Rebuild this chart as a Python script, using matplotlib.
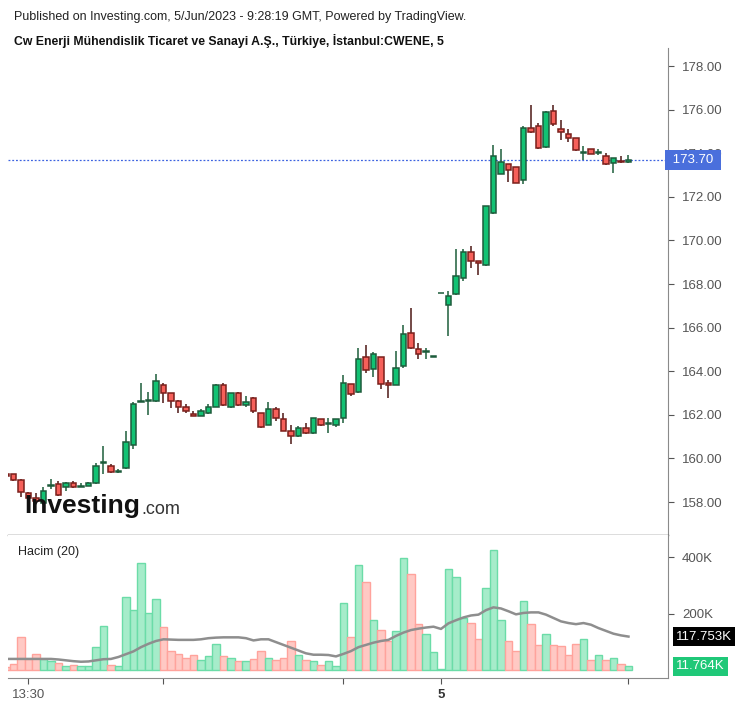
import numpy as np
import matplotlib
matplotlib.use("Agg")
import matplotlib.pyplot as plt

plt.rcParams['font.family'] = ['Liberation Sans', 'DejaVu Sans']

# 5-minute bars, 2 Jun 13:15 .. 5 Jun 12:05 (index 0..83)
opens = [159.30, 159.27, 159.02, 158.40, 158.20, 157.95, 158.72, 158.85, 158.68, 158.86,
         158.69, 158.74, 158.86, 159.78, 159.65, 159.37, 159.55, 160.61, 162.58, 162.63,
         162.63, 163.37, 163.00, 162.65, 162.37, 162.06, 161.94, 162.07, 162.36, 163.37,
         162.35, 163.00, 162.46, 162.77, 162.07, 161.55, 162.25, 161.79, 161.26, 161.03,
         161.38, 161.15, 161.79, 161.56, 161.55, 161.84, 163.40, 163.03, 164.64, 164.12,
         164.64, 163.46, 163.37, 164.24, 165.74, 165.03, 164.87, 164.64, 167.57, 167.04,
         167.54, 168.26, 169.45, 169.06, 168.87, 171.24, 173.06, 173.49, 173.37, 172.77,
         175.14, 175.26, 174.27, 175.95, 175.10, 174.87, 174.68, 174.02, 174.18, 174.02,
         173.89, 173.57, 173.66, 173.58]
highs = [159.32, 159.30, 159.05, 158.45, 158.40, 158.70, 159.05, 158.95, 158.90, 158.95,
         158.86, 158.93, 159.78, 160.58, 159.74, 159.53, 161.26, 162.57, 163.44, 163.03,
         163.86, 163.44, 163.00, 162.70, 162.48, 162.17, 162.27, 162.48, 163.40, 163.44,
         163.02, 163.06, 162.86, 162.80, 162.10, 162.60, 162.34, 162.07, 161.55, 161.49,
         161.65, 161.86, 161.82, 161.84, 161.83, 163.81, 163.42, 165.05, 165.19, 164.90,
         164.66, 163.60, 164.94, 166.12, 166.90, 165.28, 165.05, 164.64, 167.57, 167.68,
         169.60, 169.60, 169.76, 169.08, 171.60, 174.38, 174.19, 173.52, 173.39, 175.26,
         176.21, 175.37, 175.92, 176.21, 175.51, 175.11, 174.70, 174.34, 174.20, 174.19,
         174.00, 173.80, 173.89, 173.90]
lows = [159.18, 158.98, 158.22, 158.10, 158.00, 157.90, 158.62, 158.30, 158.50, 158.66,
        158.67, 158.72, 158.84, 159.30, 159.33, 159.35, 159.50, 160.42, 162.57, 162.00,
        162.60, 162.53, 162.30, 162.10, 162.10, 161.93, 161.93, 162.05, 162.34, 162.40,
        162.33, 162.43, 162.37, 162.10, 161.40, 161.52, 161.73, 161.25, 160.66, 161.00,
        161.12, 161.13, 161.50, 161.18, 161.46, 161.61, 162.88, 163.00, 163.90, 163.72,
        163.20, 162.79, 163.35, 164.13, 165.00, 164.56, 164.55, 164.64, 167.57, 165.61,
        167.50, 168.15, 168.72, 168.41, 168.85, 171.20, 173.04, 172.69, 172.64, 172.59,
        174.94, 174.19, 174.25, 175.26, 174.61, 174.50, 174.10, 173.69, 173.96, 173.92,
        173.47, 173.10, 173.57, 173.56]
closes = [159.20, 159.01, 158.44, 158.20, 158.05, 158.50, 158.77, 158.33, 158.86, 158.69,
          158.75, 158.88, 159.66, 159.84, 159.37, 159.42, 160.74, 162.48, 162.60, 162.67,
          163.55, 163.00, 162.65, 162.35, 162.18, 161.95, 162.17, 162.36, 163.37, 162.45,
          163.00, 162.45, 162.57, 162.17, 161.43, 162.25, 161.84, 161.27, 161.03, 161.39,
          161.15, 161.84, 161.55, 161.65, 161.80, 163.44, 162.97, 164.55, 164.06, 164.79,
          163.43, 163.38, 164.13, 165.69, 165.05, 164.78, 164.93, 164.64, 167.57, 167.45,
          168.37, 169.45, 169.06, 168.96, 171.58, 173.87, 173.58, 173.23, 172.66, 175.16,
          174.96, 174.25, 175.90, 175.35, 174.96, 174.68, 174.15, 174.06, 173.98, 174.06,
          173.49, 173.77, 173.59, 173.70]
# volume in thousands
volume = [11, 19, 115, 37, 55, 37, 30, 24, 12, 15,
          12, 12, 79, 155, 15, 12, 258, 212, 381, 203,
          252, 151, 65, 55, 43, 51, 33, 47, 91, 48,
          42, 29, 29, 39, 68, 42, 34, 43, 101, 51,
          33, 29, 16, 29, 12, 239, 118, 372, 311, 176,
          141, 101, 136, 398, 342, 162, 127, 64, 2, 358,
          331, 185, 167, 109, 292, 426, 176, 101, 68, 244,
          162, 86, 126, 86, 83, 51, 90, 109, 33, 51,
          33, 43, 20, 11.764]
vol_ma = [38, 38, 38, 38, 38, 38, 38, 36, 33, 30,
          28, 29, 33, 37, 38, 45, 55, 65, 80, 92,
          102, 108, 107, 106, 106, 106, 108, 112, 114, 115,
          115, 115, 112, 104, 108, 108, 98, 88, 78, 68,
          58, 53, 53, 52, 47, 56, 66, 80, 88, 96,
          102, 106, 120, 132, 141, 146, 150, 153, 145, 165,
          176, 186, 193, 196, 212, 222, 218, 208, 197, 202,
          204, 204, 196, 184, 172, 166, 162, 166, 160, 148,
          138, 128, 122, 117.753]
price_ticks = [158, 160, 162, 164, 166, 168, 170, 172, 174, 176, 178]
last_price = 173.70

W, H = 746, 707
fig = plt.figure(figsize=(W / 100, H / 100), dpi=100)


def box(l, t, r, b):
    return [l / W, 1 - b / H, (r - l) / W, (b - t) / H]


ax = fig.add_axes(box(8, 48, 668, 535))
axv = fig.add_axes(box(8, 535, 668, 678), sharex=ax)

o = np.array(opens)
c = np.array(closes)
hi = np.array(highs)
lo = np.array(lows)
x = np.arange(len(o))
up = c >= o

UP_FILL, UP_EDGE = '#12c273', '#1d5b3b'
DN_FILL, DN_EDGE = '#f6605a', '#7a1f1b'

wick_col = np.where(up, '#2f6b4a', '#5b2a28')
ax.vlines(x, lo, hi, colors=wick_col, lw=1.2, zorder=2)
body_bot = np.minimum(o, c)
body_h = np.maximum(np.abs(c - o), 0.04)
ax.bar(x, body_h, bottom=body_bot, width=0.68,
       color=np.where(up, UP_FILL, DN_FILL),
       edgecolor=np.where(up, UP_EDGE, DN_EDGE), linewidth=1.1, zorder=3)

ax.axhline(last_price, color='#3d63e0', lw=0.9, ls=(0, (1.5, 1.5)), zorder=1)

ax.set_ylim(156.49, 178.83)
ax.set_xlim(0.27, 88.27)
ax.yaxis.tick_right()
ax.set_yticks(price_ticks)
ax.set_yticklabels(['%.2f' % t for t in price_ticks])
ax.tick_params(axis='y', labelsize=9.5, colors='#555555', length=4, width=0.8, pad=6)
ax.tick_params(axis='x', bottom=False, labelbottom=False)
for s in ['left', 'top']:
    ax.spines[s].set_visible(False)
ax.spines['right'].set_color('#8a8a8a')
ax.spines['bottom'].set_color('#555555')
ax.spines['bottom'].set_linewidth(1.0)

ax.text(1.002, (last_price - 156.49) / (178.83 - 156.49), ' %.2f ' % last_price,
        transform=ax.transAxes, ha='left', va='center', fontsize=9.5, color='white',
        zorder=10, clip_on=False,
        bbox=dict(boxstyle='square,pad=0.3', fc='#4a6fdc', ec='none'))

# logo
ax.text(0.025, 0.06, 'Investing', transform=ax.transAxes, fontsize=19,
        fontweight='bold', color='#111111', ha='left', va='center', zorder=5)
ax.text(0.202, 0.052, '.com', transform=ax.transAxes, fontsize=13,
        color='#333333', ha='left', va='center', zorder=5)

# volume pane
vol = np.array(volume) * 1000
ma = np.array(vol_ma) * 1000
axv.bar(x, vol, width=1.0, color=np.where(up, '#a6ecca', '#ffc9c4'),
        edgecolor=np.where(up, '#6bdca8', '#ffa39c'), linewidth=1.0, zorder=2)
axv.plot(x, ma, color='#8e8e8e', lw=1.8, zorder=3)
axv.set_ylim(-30000, 480000)
axv.yaxis.tick_right()
axv.set_yticks([200000, 400000])
axv.set_yticklabels(['200K', '400K'])
axv.tick_params(axis='y', labelsize=9.5, colors='#555555', length=4, width=0.8, pad=6)
for s in ['left', 'top']:
    axv.spines[s].set_visible(False)
axv.spines['right'].set_color('#8a8a8a')
axv.spines['bottom'].set_color('#8a8a8a')

axv.text(1.012, (117753 + 30000) / 510000, '117.753K', transform=axv.transAxes,
         ha='left', va='center', fontsize=9.5, color='white',
         bbox=dict(boxstyle='square,pad=0.25', fc='black', ec='none'))
axv.text(1.012, (11764 + 30000) / 510000, '11.764K', transform=axv.transAxes,
         ha='left', va='center', fontsize=9.5, color='white',
         bbox=dict(boxstyle='square,pad=0.25', fc='#1fc878', ec='none'))
axv.text(0.015, 0.88, 'Hacim (20)', transform=axv.transAxes, fontsize=9,
         color='#222222', ha='left', va='center')

axv.set_xticks([3, 21, 45, 58, 83])
axv.set_xticklabels(['13:30', '', '', '5', ''])
axv.tick_params(axis='x', labelsize=9.5, colors='#555555', length=4, width=0.8, pad=4)
axv.get_xticklabels()[3].set_fontweight('bold')
axv.get_xticklabels()[3].set_color('#333333')

fig.text(14 / W, 1 - 17 / H, 'Published on Investing.com, 5/Jun/2023 - 9:28:19 GMT, Powered by TradingView.',
         fontsize=9, color='#222222', ha='left', va='center')
fig.text(14 / W, 1 - 41 / H, 'Cw Enerji Mühendislik Ticaret ve Sanayi A.Ş., Türkiye, İstanbul:CWENE, 5',
         fontsize=8.8, fontweight='bold', color='#111111', ha='left', va='center')

fig.savefig('out.png', dpi=100)
